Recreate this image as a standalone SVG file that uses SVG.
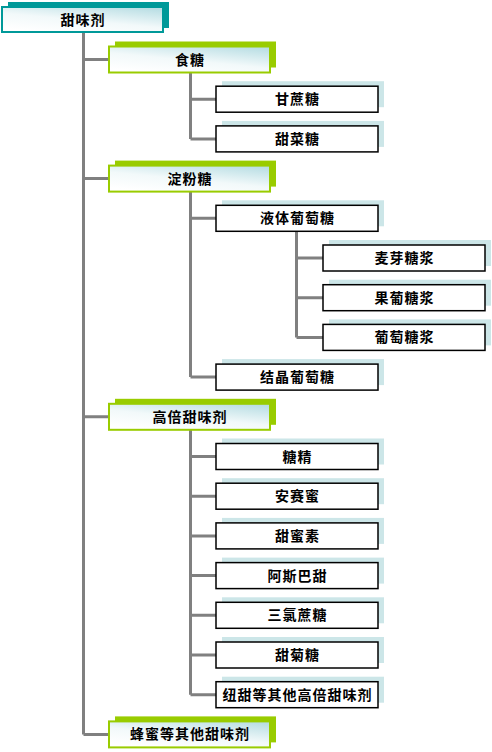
<svg xmlns="http://www.w3.org/2000/svg" width="492" height="752" viewBox="0 0 492 752">
<defs>
<linearGradient id="g" x1="0.25" y1="1" x2="0.85" y2="0">
<stop offset="0" stop-color="#ffffff"/>
<stop offset="0.45" stop-color="#f2f9fa"/>
<stop offset="1" stop-color="#b9dee4"/>
</linearGradient>
<style>
.t{font-family:"Noto Sans CJK SC","Noto Sans",sans-serif;font-size:14px;font-weight:bold;fill:#000;text-anchor:middle;letter-spacing:1px}
.c{stroke:#808080;stroke-width:3;fill:none}
.rs{fill:#009999}
.rb{fill:url(#g);stroke:#009999;stroke-width:2}
.ls{fill:#99cc00}
.lb{fill:url(#g);stroke:#99cc00;stroke-width:2}
.ss{fill:#cce6e8}
.sb{fill:#ffffff;stroke:#000;stroke-width:1.5}
</style>
</defs>
<rect width="492" height="752" fill="#ffffff"/>
<g id="connectors">
<path class="c" d="M83.5 32V734.4M83.5 59.5H109M83.5 178.6H109M83.5 416.8H109M83.5 734.4H109"/>
<path class="c" d="M190.5 72.5V138.9M190.5 99.2H216M190.5 138.9H216"/>
<path class="c" d="M190.5 191.6V377.1M190.5 218.3H216M190.5 377.1H216"/>
<path class="c" d="M296.5 231.3V337.4M296.5 258H323M296.5 297.7H323M296.5 337.4H323"/>
<path class="c" d="M190.5 429.8V694.7M190.5 456.5H216M190.5 496.2H216M190.5 535.9H216M190.5 575.6H216M190.5 615.3H216M190.5 655H216M190.5 694.7H216"/>
</g>
<g id="root">
<rect class="rs" x="8" y="2" width="161" height="26"/>
<rect class="rb" x="2" y="7" width="161" height="25"/>
<text class="t" x="83" y="24.5">甜味剂</text>
</g>
<g id="shitang">
<rect class="ls" x="115" y="41.5" width="161" height="26"/>
<rect class="lb" x="109" y="46.5" width="161" height="26"/>
<text class="t" x="190" y="64.5">食糖</text>
</g>
<g id="ganzhetang">
<rect class="ss" x="222" y="81.2" width="162" height="26"/>
<rect class="sb" x="216" y="86.2" width="162" height="26"/>
<text class="t" x="297.5" y="104.2">甘蔗糖</text>
</g>
<g id="tiancaitang">
<rect class="ss" x="222" y="120.9" width="162" height="26"/>
<rect class="sb" x="216" y="125.9" width="162" height="26"/>
<text class="t" x="297.5" y="143.9">甜菜糖</text>
</g>
<g id="dianfentang">
<rect class="ls" x="115" y="160.6" width="161" height="26"/>
<rect class="lb" x="109" y="165.6" width="161" height="26"/>
<text class="t" x="190" y="183.6">淀粉糖</text>
</g>
<g id="yetiputaotang">
<rect class="ss" x="222" y="200.3" width="162" height="26"/>
<rect class="sb" x="216" y="205.3" width="162" height="26"/>
<text class="t" x="297.5" y="223.3">液体葡萄糖</text>
</g>
<g id="maiyatangjiang">
<rect class="ss" x="329" y="240" width="162" height="26"/>
<rect class="sb" x="323" y="245" width="162" height="26"/>
<text class="t" x="404.5" y="263">麦芽糖浆</text>
</g>
<g id="guoputangjiang">
<rect class="ss" x="329" y="279.7" width="162" height="26"/>
<rect class="sb" x="323" y="284.7" width="162" height="26"/>
<text class="t" x="404.5" y="302.7">果葡糖浆</text>
</g>
<g id="putaotangjiang">
<rect class="ss" x="329" y="319.4" width="162" height="26"/>
<rect class="sb" x="323" y="324.4" width="162" height="26"/>
<text class="t" x="404.5" y="342.4">葡萄糖浆</text>
</g>
<g id="jiejingputaotang">
<rect class="ss" x="222" y="359.1" width="162" height="26"/>
<rect class="sb" x="216" y="364.1" width="162" height="26"/>
<text class="t" x="297.5" y="382.1">结晶葡萄糖</text>
</g>
<g id="gaobeitianweiji">
<rect class="ls" x="115" y="398.8" width="161" height="26"/>
<rect class="lb" x="109" y="403.8" width="161" height="26"/>
<text class="t" x="190" y="421.8">高倍甜味剂</text>
</g>
<g id="tangjing">
<rect class="ss" x="222" y="438.5" width="162" height="26"/>
<rect class="sb" x="216" y="443.5" width="162" height="26"/>
<text class="t" x="297.5" y="461.5">糖精</text>
</g>
<g id="ansaimi">
<rect class="ss" x="222" y="478.2" width="162" height="26"/>
<rect class="sb" x="216" y="483.2" width="162" height="26"/>
<text class="t" x="297.5" y="501.2">安赛蜜</text>
</g>
<g id="tianmisu">
<rect class="ss" x="222" y="517.9" width="162" height="26"/>
<rect class="sb" x="216" y="522.9" width="162" height="26"/>
<text class="t" x="297.5" y="540.9">甜蜜素</text>
</g>
<g id="asibatian">
<rect class="ss" x="222" y="557.6" width="162" height="26"/>
<rect class="sb" x="216" y="562.6" width="162" height="26"/>
<text class="t" x="297.5" y="580.6">阿斯巴甜</text>
</g>
<g id="sanlvzhetang">
<rect class="ss" x="222" y="597.3" width="162" height="26"/>
<rect class="sb" x="216" y="602.3" width="162" height="26"/>
<text class="t" x="297.5" y="620.3">三氯蔗糖</text>
</g>
<g id="tianjutang">
<rect class="ss" x="222" y="637" width="162" height="26"/>
<rect class="sb" x="216" y="642" width="162" height="26"/>
<text class="t" x="297.5" y="660">甜菊糖</text>
</g>
<g id="niutian">
<rect class="ss" x="222" y="676.7" width="162" height="26"/>
<rect class="sb" x="216" y="681.7" width="162" height="26"/>
<text class="t" x="297.5" y="699.7">纽甜等其他高倍甜味剂</text>
</g>
<g id="fengmi">
<rect class="ls" x="115" y="716.4" width="161" height="26"/>
<rect class="lb" x="109" y="721.4" width="161" height="26"/>
<text class="t" x="190" y="739.4">蜂蜜等其他甜味剂</text>
</g>
</svg>
